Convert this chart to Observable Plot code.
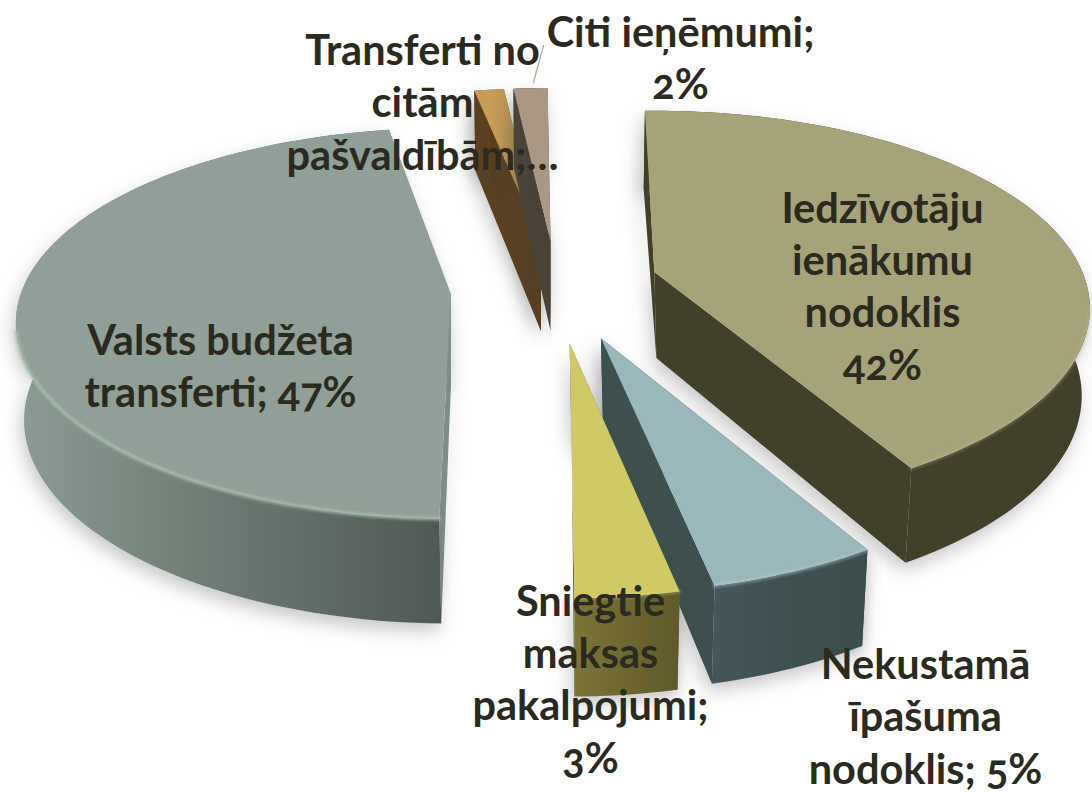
<!DOCTYPE html>
<html><head><meta charset="utf-8">
<style>html,body{margin:0;padding:0;background:#fff}svg{display:block}</style>
<script src="https://cdn.jsdelivr.net/npm/d3@7"></script>
<script src="https://cdn.jsdelivr.net/npm/@observablehq/plot@0.6"></script>
</head><body><div id="chart"></div>
<script>
// Data
const categories = ["Iedzīvotāju ienākumu nodoklis","Nekustamā īpašuma nodoklis","Sniegtie maksas pakalpojumi","Valsts budžeta transferti","Transferti no citām pašvaldībām","Citi ieņēmumi"];
const shares = [42, 5, 3, 47, 1.4, 1.6];
const labels = ["Iedzīvotāju\nienākumu\nnodoklis\n42%","Nekustamā\nīpašuma\nnodoklis; 5%","Sniegtie\nmaksas\npakalpojumi;\n3%","Valsts budžeta\ntransferti; 47%","Transferti no\ncitām\npašvaldībām;…","Citi ieņēmumi;\n2%"];
// Layout and styling
const labelX = [882, 925, 590, 220, 422, 680];
const labelY = [284, 714, 677, 364, 100, 56];
const explode = [0.24, 0.295, 0.30, 0.25, 0.24, 0.24];
const sink = [-2, -1, 0, 4, 0, 0];
const rot = [-1, -0.5, 0, 1.8, 0, 0];
const radii = [428, 420, 424, 430, 424, 424];
const perspective = [0.185, 0.25, 0.25, 0.15, 0.25, 0.25];
const depths = [86, 84, 84, 96, 90, 90];
const topFill = ["#a6a37a","#9ab8ba","#cfc966","#909f97","#c69c56","#a99886"];
const radialFill = ["#41402b","#3f5050","#68622f","#7e8e86","#5a4020","#4a4338"];
const rimFill = ["#41402b","url(#rimBlue)","url(#rimYellow)","url(#rimGrey)","#5a4020","#4a4338"];
const rimLight = ["#bdba92","#b7d0d1","#e0da88","#a9bcb3","#d8b070","#bcae9c"];
const rimGlow = [0.35, 0.5, 0.3, 0.9, 0, 0];
const paintOrder = [3, 4, 5, 0, 1, 2];
const leaderX = [543, 533], leaderY = [45, 82];
const cx = 556, cy = 286, baseR = 424, Ry = 191, startDeg = -0.5;

const total = d3.sum(shares);
let acc = startDeg;
const slices = shares.map((v, i) => {
  const a0 = acc + rot[i], a1 = acc + v / total * 360 + rot[i];
  acc += v / total * 360;
  const mid = (a0 + a1) / 2 * Math.PI / 180;
  return {i, a0, a1, ax: cx + explode[i] * baseR * Math.sin(mid), ay: cy + sink[i] - explode[i] * Ry * Math.cos(mid)};
});
function rimPoint(s, deg) {
  const t = deg * Math.PI / 180, u = Math.sin(t), v = -Math.cos(t), k = 1 / (1 - perspective[s.i] * v);
  return {x: s.ax + radii[s.i] * u * k, y: s.ay + Ry * v * k, k, s};
}
function lower(p) {
  const depth = depths[p.s.i];
  if (p.apex) return {x: p.x + (p.x > cx ? 2 : 0), y: p.y + depth};
  const d = depth * Math.pow(p.k, 0.55);
  return {x: cx + (p.x - cx) * (1 - 0.015 * d / depth), y: p.y + d};
}
const apex = s => ({x: s.ax, y: s.ay, k: 1, s, apex: true});
function rim(s, a, b) {
  const n = Math.max(2, Math.ceil(Math.abs(b - a) / 1.5));
  return d3.range(n + 1).map(j => rimPoint(s, a + (b - a) * j / n));
}
const grad = (id, stops) => `<linearGradient id="${id}" x1="0" x2="1" y1="0" y2="0">${stops.map(([o, c]) => `<stop offset="${o}" stop-color="${c}"/>`).join("")}</linearGradient>`;
const defs = () => {
  const g = d3.create("svg:g");
  g.html(`<defs>${grad("rimGrey", [[0,"#8c9c94"],[0.45,"#6f7c75"],[1,"#4f5954"]])}${grad("rimBlue", [[0,"#465759"],[0.5,"#3f5051"],[1,"#3c4d4d"]])}${grad("rimYellow", [[0,"#7d7438"],[1,"#5f592b"]])}</defs>`);
  return g.node();
};
const marks = [defs];
for (const i of paintOrder) {
  const s = slices[i], A = apex(s), P0 = rimPoint(s, s.a0), P1 = rimPoint(s, s.a1);
  const shadow = "drop-shadow(-3px 8px 9px rgba(70,70,70,.3))";
  const rr = rim(s, s.a0, s.a1);
  marks.push(Plot.line([A, P0, lower(P0), lower(A)], {x: "x", y: "y", fill: radialFill[i], stroke: "none", imageFilter: shadow}));
  marks.push(Plot.line([A, P1, lower(P1), lower(A)], {x: "x", y: "y", fill: radialFill[i], stroke: "none", imageFilter: shadow}));
  marks.push(Plot.line([...rr, ...rr.slice().reverse().map(lower)], {x: "x", y: "y", fill: rimFill[i], stroke: "none", imageFilter: shadow}));
  marks.push(Plot.line([A, ...rr], {x: "x", y: "y", fill: topFill[i], stroke: "none"}));
  const near = rr.filter(p => p.y > s.ay + 35);
  if (rimGlow[i] > 0 && near.length > 2) marks.push(Plot.line(near, {x: "x", y: "y", stroke: rimLight[i], strokeWidth: 3.5, strokeOpacity: rimGlow[i], imageFilter: "blur(1.5px)"}));
}
marks.push(Plot.line(leaderX.map((x, j) => ({x, y: leaderY[j]})), {x: "x", y: "y", stroke: "#b9ad94", strokeWidth: 1.3}));
marks.push(Plot.text(labels, {
  x: (d, j) => labelX[j], y: (d, j) => labelY[j], text: d => d,
  fontFamily: "Lato", fontWeight: 700, fontSize: 41.5, lineHeight: 1.26, fill: "#2b2a1f", textAnchor: "middle"
}));
const figure = Plot.plot({
  width: 1092, height: 792, margin: 0,
  x: {domain: [0, 1092], range: [0, 1092], axis: null},
  y: {domain: [0, 792], range: [0, 792], axis: null},
  style: {background: "#fff", fontVariantNumeric: "oldstyle-nums"},
  marks
});
document.getElementById("chart").append(figure);
</script></body></html>
